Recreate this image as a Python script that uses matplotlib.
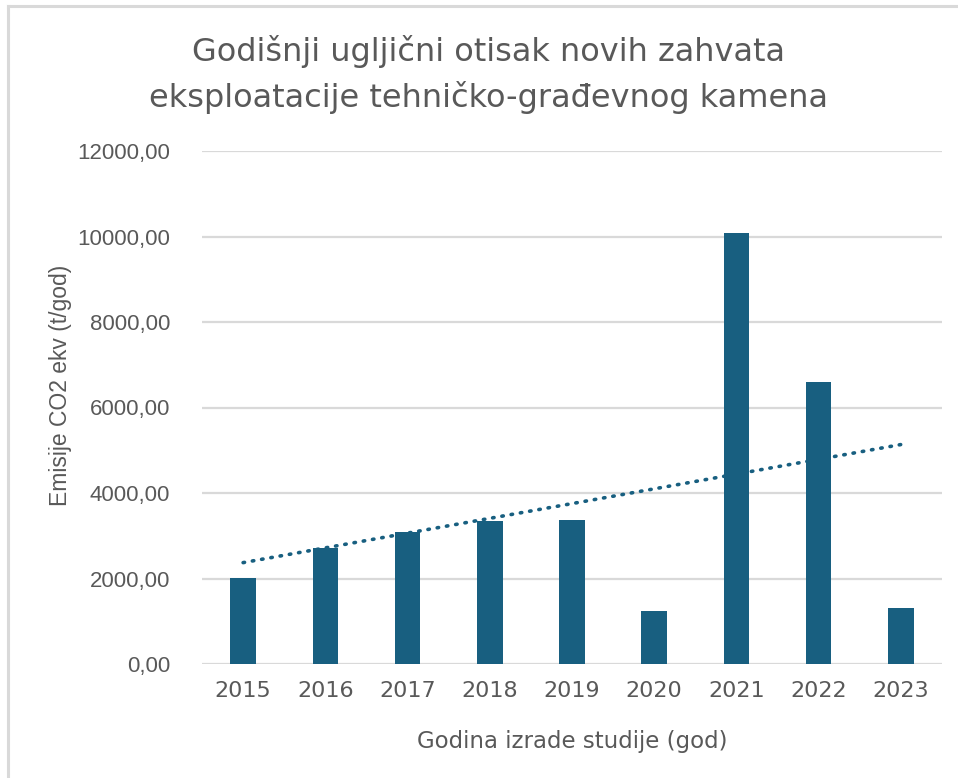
import numpy as np
import matplotlib.pyplot as plt
from matplotlib.lines import Line2D
from matplotlib.ticker import FuncFormatter

years = ['2015', '2016', '2017', '2018', '2019', '2020', '2021', '2022', '2023']
emissions = [2015, 2715, 3090, 3345, 3370, 1245, 10080, 6600, 1310]

bar_color = '#185F80'
grid_color = '#D9D9D9'
text_color = '#595959'
narrow = ['DejaVu Sans']
arial = ['Liberation Sans', 'DejaVu Sans']

fig = plt.figure(figsize=(9.58, 7.78), dpi=100)
ax = fig.add_axes([202/958, 1 - 664/778, 740/958, 513/778])

x = np.arange(len(years))
ax.bar(x, emissions, width=0.31, color=bar_color, zorder=3)

# linear trend line (dotted)
k, b = np.polyfit(x, emissions, 1)
ax.plot(x, k*x + b, color=bar_color, lw=2.6, linestyle=(0, (0.4, 2.2)),
        dash_capstyle='round', zorder=4)

ax.set_xlim(-0.5, len(years) - 0.5)
ax.set_ylim(0, 12000)
ax.set_yticks(np.arange(0, 12001, 2000))
ax.yaxis.set_major_formatter(FuncFormatter(lambda v, p: f'{v:.2f}'.replace('.', ',')))
ax.set_xticks(x, labels=years)
ax.grid(axis='y', color=grid_color, lw=1.6, zorder=0)
for s in ax.spines.values():
    s.set_visible(False)
ax.tick_params(length=0)
ax.tick_params(axis='y', pad=23, labelsize=16, labelcolor=text_color)
ax.tick_params(axis='x', pad=12, labelsize=16, labelcolor=text_color)
for lbl in ax.get_xticklabels():
    lbl.set_family(narrow)
for lbl in ax.get_yticklabels():
    lbl.set_family(arial)

ax.set_xlabel('Godina izrade studije (god)', fontsize=16.5, color=text_color,
              family=narrow, labelpad=21)
fig.text(60/958, 1 - 385/778, 'Emisije CO2 ekv (t/god)', rotation=90,
         ha='center', va='center', fontsize=16.5, color=text_color, family=arial)

fig.text(488/958, 1 - 74/778,
         'Godišnji ugljični otisak novih zahvata\neksploatacije tehničko-građevnog kamena',
         ha='center', va='center', fontsize=23, color=text_color, family=narrow,
         linespacing=1.5)

# chart frame (top and left edges visible)
fig.add_artist(Line2D([8/958, 1], [1 - 6/778, 1 - 6/778], color=grid_color, lw=2.2,
                      transform=fig.transFigure))
fig.add_artist(Line2D([8/958, 8/958], [0, 1 - 6/778], color=grid_color, lw=2.2,
                      transform=fig.transFigure))

fig.savefig('out.png', dpi=100)
